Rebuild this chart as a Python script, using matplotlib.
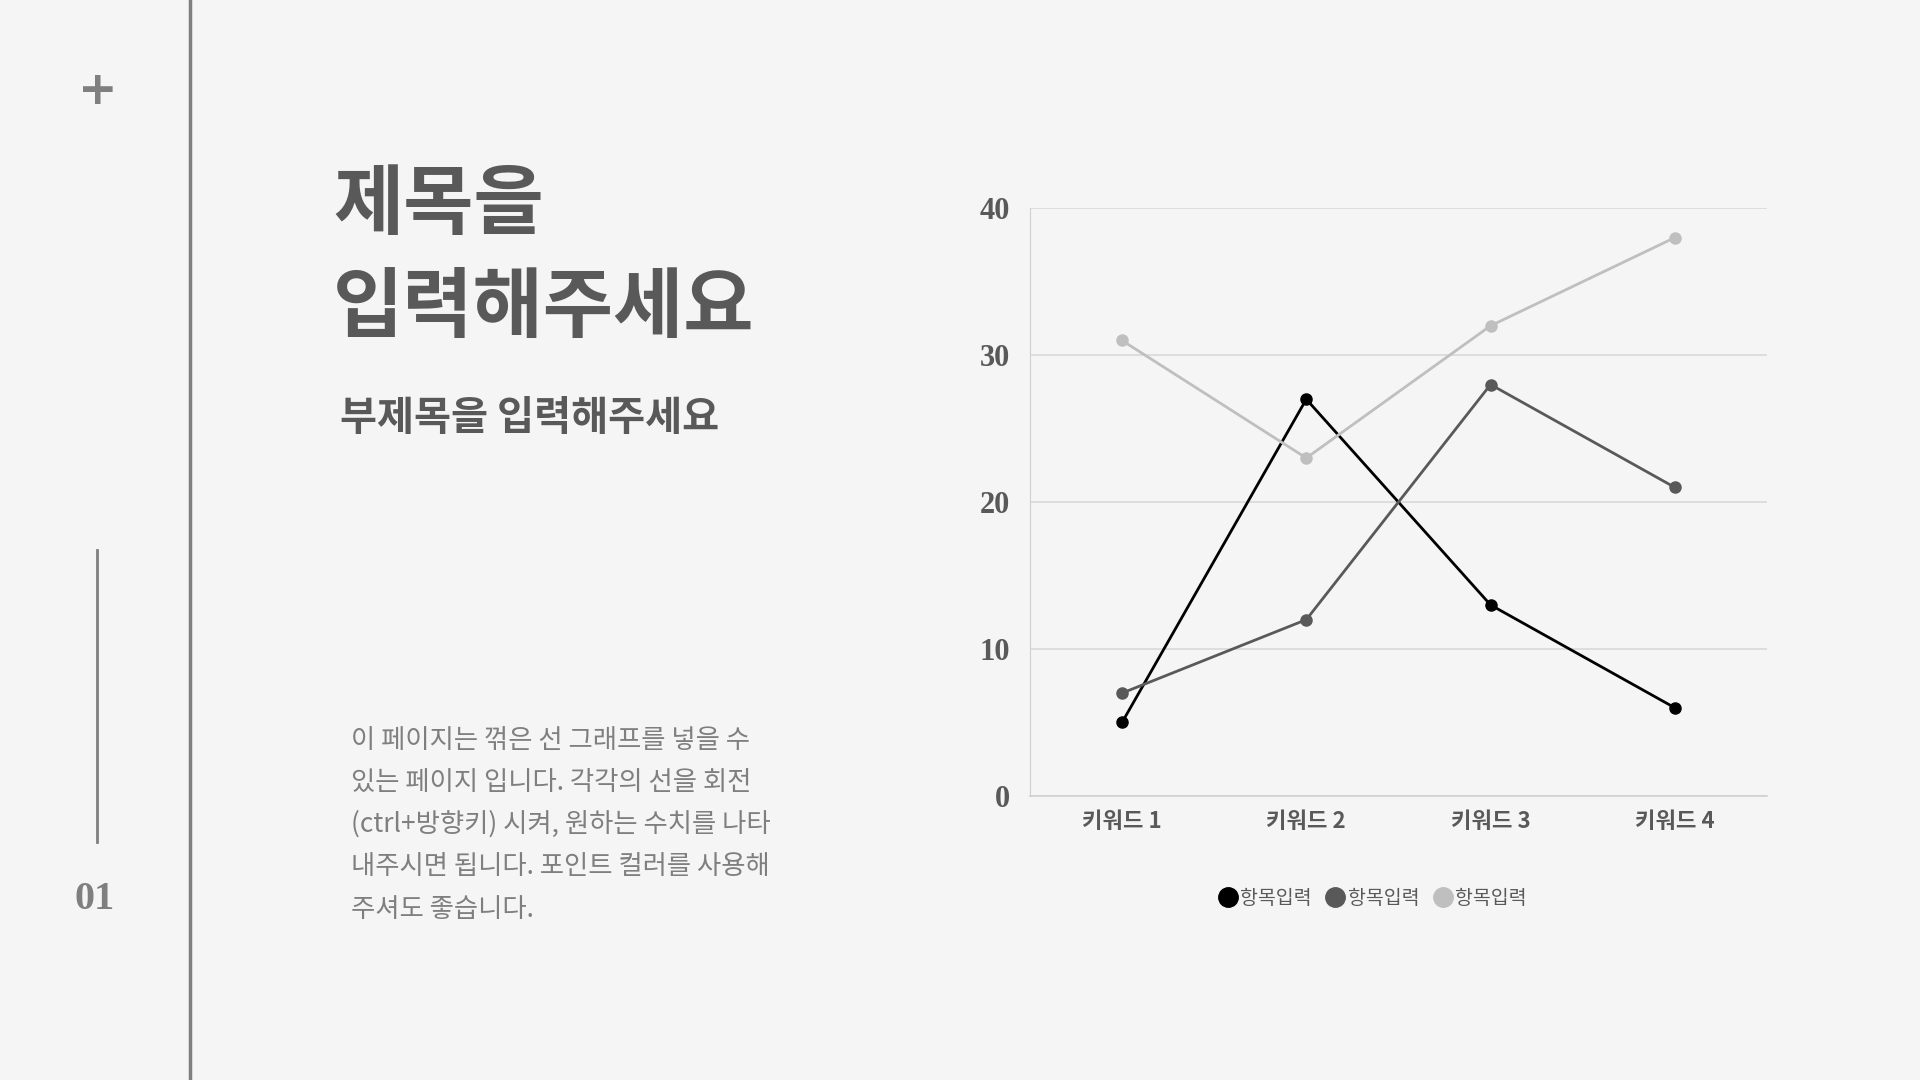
import matplotlib.pyplot as plt
from matplotlib.lines import Line2D

plt.rcParams['font.family'] = ['Noto Sans CJK KR', 'DejaVu Sans']

categories = ["키워드 1", "키워드 2", "키워드 3", "키워드 4"]
series_names = ["항목입력", "항목입력", "항목입력"]
series_1 = [5, 27, 13, 6]
series_2 = [7, 12, 28, 21]
series_3 = [31, 23, 32, 38]
colors = ["#000000", "#595959", "#bfbfbf"]
y_ticks = [0, 10, 20, 30, 40]

title_lines = ["제목을", "입력해주세요"]
subtitle = "부제목을 입력해주세요"
body_lines = [
    "이 페이지는 꺾은 선 그래프를 넣을 수",
    "있는 페이지 입니다. 각각의 선을 회전",
    "(ctrl+방향키) 시켜, 원하는 수치를 나타",
    "내주시면 됩니다. 포인트 컬러를 사용해",
    "주셔도 좋습니다.",
]

bg = "#f5f5f5"
fig = plt.figure(figsize=(19.2, 10.8), dpi=100, facecolor=bg)

# left decoration
fig.add_artist(Line2D([0.0989, 0.0989], [0, 1], color="#7f7f7f", lw=2.5))
fig.add_artist(Line2D([0.0504, 0.0504], [0.22, 0.491], color="#7f7f7f", lw=2))
fig.text(0.0510, 0.915, "+", fontsize=34, fontweight="bold", color="#7f7f7f",
         ha="center", va="center", family="DejaVu Sans")
fig.text(0.0491, 0.1667, "01", fontsize=29, fontweight="bold", color="#7f7f7f",
         ha="center", va="center", family="Liberation Serif")

# titles
fig.text(0.1735, 0.8095, title_lines[0], fontsize=55, fontweight="bold",
         color="#595959", ha="left", va="center")
fig.text(0.1735, 0.7143, title_lines[1], fontsize=55, fontweight="bold",
         color="#595959", ha="left", va="center")
fig.text(0.1773, 0.6122, subtitle, fontsize=29, fontweight="bold",
         color="#595959", ha="left", va="center")

body_y = [0.3141, 0.2755, 0.2370, 0.1973, 0.1576]
for line, y in zip(body_lines, body_y):
    fig.text(0.1830, y, line, fontsize=19, color="#7f7f7f", ha="left", va="center")

# chart
ax = fig.add_axes([0.5364, 0.2630, 0.3839, 0.5442])
ax.set_facecolor(bg)
x = range(len(categories))
for vals, c, name in zip([series_1, series_2, series_3], colors, series_names):
    ax.plot(x, vals, color=c, lw=2, marker="o", markersize=8, label=name)

ax.set_xlim(-0.5, 3.5)
ax.set_ylim(0, 40)
ax.set_yticks(y_ticks)
ax.set_xticks(list(x))
ax.set_xticklabels(categories, fontsize=16, fontweight="bold", color="#595959")
for lab in ax.get_yticklabels():
    lab.set_family("Liberation Serif")
    lab.set_fontweight("bold")
ax.tick_params(axis="y", labelsize=22, labelcolor="#595959", length=0, pad=14)
ax.tick_params(axis="x", length=0, pad=10)
ax.grid(axis="y", color="#d9d9d9", lw=1.2)
ax.set_axisbelow(True)
for s in ["top", "right"]:
    ax.spines[s].set_visible(False)
ax.spines["left"].set_color("#d0d0d0")
ax.spines["bottom"].set_color("#d0d0d0")
ax.spines["bottom"].set_linewidth(1.2)

handles = [Line2D([], [], color=c, marker="o", lw=0, markersize=14) for c in colors]
fig.legend(handles, series_names, loc="center", bbox_to_anchor=(0.7143, 0.1678),
           ncol=3, frameon=False, fontsize=14, handletextpad=0.05, columnspacing=0.6,
           labelcolor="#595959", handlelength=1.2)

fig.savefig("out.png", dpi=100, facecolor=bg)
